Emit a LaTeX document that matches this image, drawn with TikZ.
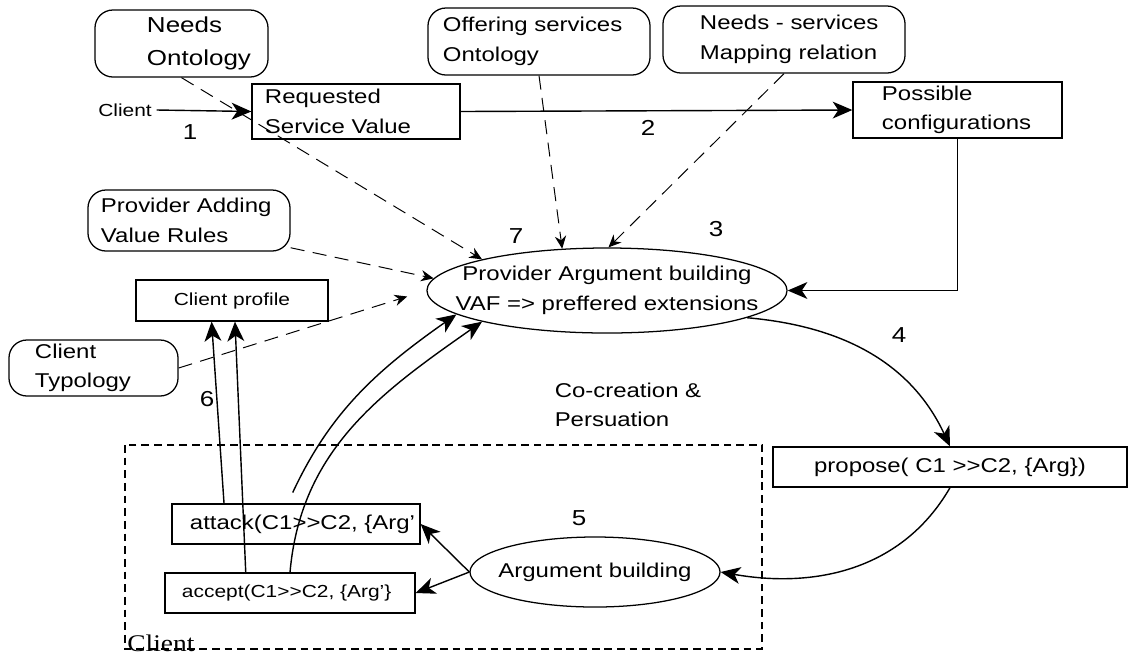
\documentclass[tikz,border=0pt]{standalone}
\usepackage{fontspec}
\setmainfont{Liberation Sans}[FakeStretch=1.2]
\newfontfamily\clientfont{Liberation Serif}[FakeStretch=1.15]
\usetikzlibrary{arrows.meta,shapes.geometric}

\newcommand{\mainsize}{\fontsize{14.2}{21}\selectfont}
\newcommand{\smallsize}{\fontsize{12.4}{18}\selectfont}
\newcommand{\bigsize}{\fontsize{15.4}{23.5}\selectfont}

\begin{document}
\begin{tikzpicture}[x=0.025cm, y=-0.025cm]
  \tikzstyle{rbox}=[draw, line width=0.9pt, rounded corners=0.45cm, align=left, inner ysep=2pt, font=\mainsize]
  \tikzstyle{sbox}=[draw, line width=0.9pt, align=left, inner ysep=2pt, font=\mainsize]
  \tikzstyle{oval}=[draw, line width=0.9pt, ellipse, align=center, inner ysep=0pt, font=\mainsize]
  \tikzstyle{num}=[font=\bigsize]
  \tikzstyle{flow}=[line width=1pt, -{Stealth[length=14pt, width=12pt, inset=4pt]}]
  \tikzstyle{hint}=[line width=0.7pt, dash pattern=on 10pt off 6pt, -{Stealth[length=9pt, width=8pt]}]
  \tikzstyle{clientbox}=[line width=1.6pt, dash pattern=on 5.5pt off 3.5pt]
  \useasboundingbox (0,0) rectangle (1128,654);

  % knowledge sources
  \node[rbox, font=\bigsize, minimum width=4.325cm, minimum height=1.675cm, inner xsep=1.3cm, text width=1.725cm] (needs) at (181.5,43.5) {\mbox{Needs}\\\mbox{Ontology}};
  \node[rbox, minimum width=5.55cm, minimum height=1.675cm, inner xsep=0.375cm, text width=4.8cm] (offer) at (539,41.5) {Offering services\\Ontology};
  \node[rbox, minimum width=6.05cm, minimum height=1.675cm, inner xsep=0.925cm, text width=4.2cm] (mapping) at (784,39.5) {\mbox{Needs - services}\\\mbox{Mapping relation}};
  \node[rbox, minimum width=5.05cm, minimum height=1.525cm, inner xsep=0.325cm, text width=4.4cm] (adding) at (189,220.5) {Provider Adding\\Value Rules};
  \node[rbox, minimum width=4.225cm, minimum height=1.4cm, inner xsep=0.65cm, text width=2.925cm] (typology) at (93.5,368) {Client\\Typology};

  % provider side
  \node[font=\smallsize] (client) at (125,110) {Client};
  \node[sbox, minimum width=5.2cm, minimum height=1.375cm, inner xsep=0.325cm, text width=4.55cm] (request) at (356,111.5) {Requested\\Service Value};
  \node[sbox, minimum width=5.225cm, minimum height=1.4cm, inner xsep=0.725cm, text width=3.775cm] (possible) at (957.5,110) {Possible\\configurations};
  \node[oval, minimum width=9cm, minimum height=2.125cm, inner xsep=-22pt] (provider) at (607,290.5) {Provider Argument building\\VAF => preffered extensions};
  \node[sbox, font=\smallsize, align=center, minimum width=4.8cm, minimum height=1.025cm] (profile) at (232,300.5) {Client profile};
  \node[sbox, align=center, minimum width=8.85cm, minimum height=1cm] (propose) at (950,467) {propose( C1 >{}>C2, \{Arg\})};
  \node[font=\mainsize, align=left] (cocreate) at (628,405) {Co-creation \&\\Persuation};

  % client side
  \draw[clientbox] (125,445) rectangle (762,649);
  \node[font={\clientfont\fontsize{17}{20}\selectfont}, anchor=base west, inner sep=0pt] (clientlbl) at (127,651) {Client};
  \node[sbox, minimum width=6.2cm, minimum height=1cm, inner xsep=0.45cm, text width=5.3cm] (attack) at (296,524) {\mbox{attack(C1>{}>C2, \{Arg'}};
  \node[sbox, font=\smallsize, minimum width=6.25cm, minimum height=1cm, inner xsep=0.425cm, text width=5.4cm] (accept) at (290,593) {accept(C1>{}>C2, \{Arg'\}};
  \node[oval, minimum width=6.25cm, minimum height=1.75cm, inner xsep=-8pt] (arg) at (595,572) {Argument building};

  % step numbers
  \node[num] (n1) at (190,132) {1};
  \node[num] (n2) at (648,128) {2};
  \node[num] (n3) at (716,229) {3};
  \node[num] (n4) at (899,335) {4};
  \node[num] (n5) at (579,518) {5};
  \node[num] (n6) at (207,399) {6};
  \node[num] (n7) at (516,236) {7};

  % main flow
  \draw[flow] (client.east) -- (request.west);
  \draw[flow] (request.east) -- (possible.west);
  \draw[flow] (possible.south) |- (provider.east);
  \draw[flow] (provider.-11) to[out=-5, in=115] (propose.north);
  \draw[flow] (propose.south) to[out=-120, in=-10] (arg.east);
  \draw[flow] (arg.west) -- (attack.east);
  \draw[flow] (arg.west) -- (accept.east);
  \draw[flow, shorten <=0.3cm] (attack.112) to[out=65, in=215] (provider.189);
  \draw[flow] (accept.north) to[out=85, in=215] (provider.194);
  \draw[flow] (attack.164) -- (profile.226);
  \draw[flow] (accept.155) -- (profile.278);

  % knowledge used by the provider
  \draw[hint] (needs.south) -- (provider.166);
  \draw[hint] (offer.south) -- (provider.137);
  \draw[hint] (mapping.south) -- (provider.88);
  \draw[hint] (adding.-15) -- (provider.176);
  \draw[hint, shorten >=0.5cm] (typology.east) -- (provider.west);
\end{tikzpicture}
\end{document}
